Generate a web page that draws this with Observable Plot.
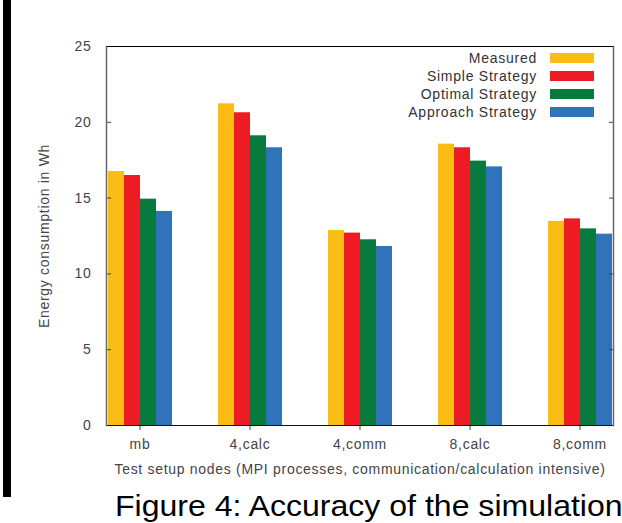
<!DOCTYPE html>
<html><head><meta charset="utf-8">
<script src="https://cdn.jsdelivr.net/npm/d3@7"></script>
<script src="https://cdn.jsdelivr.net/npm/@observablehq/plot@0.6"></script>
<style>
body{margin:0;background:#fff;font-family:"Liberation Sans",Arial,sans-serif;}
#wrap{position:relative;width:622px;height:523px;overflow:hidden;background:#fff;}
#chart{position:absolute;left:0;top:0;}
#chart svg text{letter-spacing:0.7px;}
#bar{position:absolute;left:3px;top:0;width:8px;height:497px;background:#000;}
#legend{position:absolute;right:28px;top:49px;font-size:14px;color:#333;letter-spacing:0.75px;}
#legend .row{display:flex;justify-content:flex-end;align-items:center;height:18px;}
#legend .sw{width:44px;height:10px;margin-left:13px;}
#caption{position:absolute;left:115px;top:492px;font-size:29px;line-height:29px;color:#000;white-space:nowrap;transform:scaleX(1.105);transform-origin:0 0;}
</style></head><body>
<div id="wrap"><div id="bar"></div><div id="chart"></div><div id="legend"></div><div id="caption">Figure 4: Accuracy of the simulation</div></div>
<script>
const categories = ["mb", "4,calc", "4,comm", "8,calc", "8,comm"];
const series = ["Measured", "Simple Strategy", "Optimal Strategy", "Approach Strategy"];
const colors = ["#FBBC14", "#ED1C24", "#087A3D", "#3073BA"];
const measured = [16.75, 21.22, 12.86, 18.56, 13.46];
const simple = [16.49, 20.63, 12.69, 18.32, 13.63];
const optimal = [14.93, 19.11, 12.25, 17.44, 12.97];
const approach = [14.12, 18.32, 11.81, 17.06, 12.62];
const yTicks = [0, 5, 10, 15, 20, 25];
const xLabel = "Test setup nodes (MPI processes, communication/calculation intensive)";
const yLabel = "Energy consumption in Wh";

const values = [measured, simple, optimal, approach];
const data = categories.flatMap((c, i) => series.map((s, j) => ({category: c, series: s, value: values[j][i]})));

const chart = Plot.plot({
  width: 622, height: 480,
  marginLeft: 105, marginRight: 8, marginTop: 46, marginBottom: 55,
  style: {fontFamily: "'Liberation Sans', Arial, sans-serif", fontSize: "14px", color: "#444", background: "transparent"},
  fx: {domain: categories, paddingInner: 0.395, paddingOuter: 0, label: null},
  x: {domain: series, padding: 0, axis: null},
  y: {domain: [0, 25]},
  color: {domain: series, range: colors},
  marks: [
    Plot.barY(data, {fx: "category", x: "series", y: "value", fill: "series"}),
    Plot.axisY({ticks: yTicks, tickSize: -5, tickPadding: 20, label: yLabel, labelArrow: "none", labelAnchor: "center", labelOffset: 67, stroke: "#444"}),
    Plot.axisY({anchor: "right", ticks: yTicks, tickSize: -5, tickFormat: () => "", label: null, stroke: "#444"}),
    Plot.axisFx({anchor: "bottom", tickSize: 5, tickPadding: 9, label: xLabel, labelArrow: "none", labelAnchor: "center", labelOffset: 48}),
    Plot.frame({facet: "super", anchor: "top", stroke: "#000"}),
    Plot.frame({facet: "super", anchor: "bottom", stroke: "#111"}),
    Plot.frame({facet: "super", anchor: "left", stroke: "#666", strokeWidth: 1.5}),
    Plot.frame({facet: "super", anchor: "right", stroke: "#666", strokeWidth: 1.5})
  ]
});
document.getElementById("chart").append(chart);

const legend = document.getElementById("legend");
series.forEach((s, j) => {
  const row = document.createElement("div");
  row.className = "row";
  const t = document.createElement("span");
  t.textContent = s;
  const sw = document.createElement("span");
  sw.className = "sw";
  sw.style.background = colors[j];
  row.append(t, sw);
  legend.append(row);
});
</script>
</body></html>
